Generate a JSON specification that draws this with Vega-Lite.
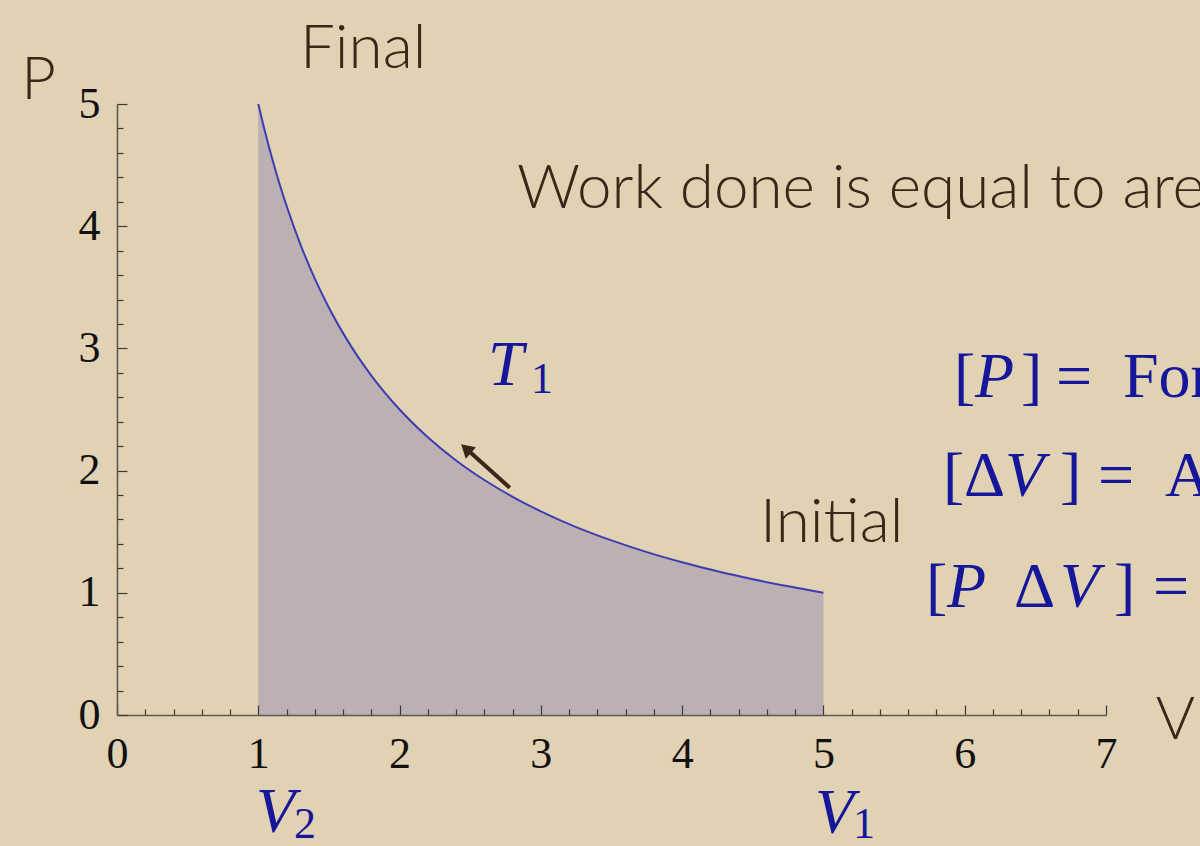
{
  "$schema": "https://vega.github.io/schema/vega-lite/v6.json",
  "width": 989,
  "height": 611,
  "autosize": {"type": "none"},
  "padding": {"left": 117, "top": 104, "right": 94, "bottom": 131},
  "background": "#e1d2b4",
  "config": {"view": {"stroke": null}},
  "datasets": {
    "isotherm": [
      {"v": 1.0, "p": 5.0}, {"v": 1.05, "p": 4.762}, {"v": 1.1, "p": 4.545},
      {"v": 1.15, "p": 4.348}, {"v": 1.2, "p": 4.167}, {"v": 1.3, "p": 3.846},
      {"v": 1.4, "p": 3.571}, {"v": 1.5, "p": 3.333}, {"v": 1.6, "p": 3.125},
      {"v": 1.7, "p": 2.941}, {"v": 1.8, "p": 2.778}, {"v": 1.9, "p": 2.632},
      {"v": 2.0, "p": 2.5}, {"v": 2.2, "p": 2.273}, {"v": 2.4, "p": 2.083},
      {"v": 2.6, "p": 1.923}, {"v": 2.8, "p": 1.786}, {"v": 3.0, "p": 1.667},
      {"v": 3.25, "p": 1.538}, {"v": 3.5, "p": 1.429}, {"v": 3.75, "p": 1.333},
      {"v": 4.0, "p": 1.25}, {"v": 4.25, "p": 1.176}, {"v": 4.5, "p": 1.111},
      {"v": 4.75, "p": 1.053}, {"v": 5.0, "p": 1.0}
    ],
    "arrow": [{"v": 2.78, "p": 1.86, "v2": 2.5, "p2": 2.15}],
    "arrowHead": [{"v": 2.47, "p": 2.18}],
    "notes": [
      {"v": 1.295, "p": 5.294, "text": "Final"},
      {"v": 2.831, "p": 4.149, "text": "Work done is equal to area under the curve"},
      {"v": 4.551, "p": 1.416, "text": "Initial"}
    ],
    "mathItalic": [
      {"v": 2.626, "p": 2.70, "text": "T"},
      {"v": 6.073, "p": 2.602, "text": "P"},
      {"v": 6.285, "p": 1.792, "text": "V"},
      {"v": 5.874, "p": 0.884, "text": "P"},
      {"v": 6.674, "p": 0.884, "text": "V"},
      {"v": 0.984, "p": -0.957, "text": "V"},
      {"v": 4.940, "p": -0.966, "text": "V"}
    ],
    "mathRoman": [
      {"v": 5.924, "p": 2.602, "text": "["},
      {"v": 6.398, "p": 2.602, "text": "]"},
      {"v": 6.646, "p": 2.602, "text": "="},
      {"v": 7.120, "p": 2.602, "text": "Force/Area"},
      {"v": 5.846, "p": 1.792, "text": "["},
      {"v": 5.995, "p": 1.792, "text": "Δ"},
      {"v": 6.674, "p": 1.792, "text": "]"},
      {"v": 6.943, "p": 1.792, "text": "="},
      {"v": 7.417, "p": 1.792, "text": "Area × Length"},
      {"v": 5.726, "p": 0.884, "text": "["},
      {"v": 6.349, "p": 0.884, "text": "Δ"},
      {"v": 7.056, "p": 0.884, "text": "]"},
      {"v": 7.332, "p": 0.884, "text": "="}
    ],
    "mathSub": [
      {"v": 2.930, "p": 2.635, "text": "1"},
      {"v": 1.253, "p": -1.007, "text": "2"},
      {"v": 5.209, "p": -1.007, "text": "1"}
    ]
  },
  "layer": [
    {
      "data": {"name": "isotherm"},
      "mark": {"type": "area", "interpolate": "monotone", "color": "#978eb2", "opacity": 0.5},
      "encoding": {
        "x": {
          "field": "v", "type": "quantitative",
          "scale": {"domain": [0, 7], "nice": false},
          "axis": {
            "orient": "bottom", "values": [0, 1, 2, 3, 4, 5, 6, 7], "format": "d",
            "tickSize": -10, "tickColor": "#3a3a3a", "tickWidth": 1.2,
            "domainColor": "#5a5a55", "domainWidth": 1.6,
            "labelFont": "Liberation Serif", "labelFontSize": 44, "labelColor": "#111111",
            "labelPadding": 27, "labelFlush": false, "labelOverlap": false, "grid": false,
            "zindex": 2,
            "title": "V", "titleFont": "Lato", "titleFontWeight": 300, "titleFontSize": 60,
            "titleColor": "#3b2618", "titleX": 1058, "titleY": 5, "titleAlign": "center",
            "titleBaseline": "middle", "titleAngle": 0
          }
        },
        "y": {
          "field": "p", "type": "quantitative",
          "scale": {"domain": [0, 5], "nice": false},
          "axis": {
            "orient": "left", "values": [0, 1, 2, 3, 4, 5], "format": "d",
            "tickSize": -10, "tickColor": "#3a3a3a", "tickWidth": 1.2,
            "domainColor": "#5a5a55", "domainWidth": 1.6,
            "labelFont": "Liberation Serif", "labelFontSize": 44, "labelColor": "#111111",
            "labelPadding": 27, "labelFlush": false, "labelOverlap": false, "grid": false,
            "zindex": 2,
            "title": "P", "titleFont": "Lato", "titleFontWeight": 300, "titleFontSize": 60,
            "titleColor": "#3b2618", "titleX": -79, "titleY": -24, "titleAlign": "center",
            "titleBaseline": "middle", "titleAngle": 0
          }
        }
      }
    },
    {
      "data": {"name": "isotherm"},
      "mark": {"type": "line", "interpolate": "monotone", "color": "#3d3db3", "strokeWidth": 2},
      "encoding": {
        "x": {
          "field": "v", "type": "quantitative",
          "axis": {
            "orient": "bottom",
            "values": [0.2, 0.4, 0.6, 0.8, 1.2, 1.4, 1.6, 1.8, 2.2, 2.4, 2.6, 2.8, 3.2, 3.4, 3.6, 3.8, 4.2, 4.4, 4.6, 4.8, 5.2, 5.4, 5.6, 5.8, 6.2, 6.4, 6.6, 6.8],
            "tickSize": -6, "tickColor": "#3a3a3a", "tickWidth": 1.2,
            "labels": false, "domain": false, "grid": false, "title": null, "zindex": 2
          }
        },
        "y": {
          "field": "p", "type": "quantitative",
          "axis": {
            "orient": "left",
            "values": [0.2, 0.4, 0.6, 0.8, 1.2, 1.4, 1.6, 1.8, 2.2, 2.4, 2.6, 2.8, 3.2, 3.4, 3.6, 3.8, 4.2, 4.4, 4.6, 4.8],
            "tickSize": -6, "tickColor": "#3a3a3a", "tickWidth": 1.2,
            "labels": false, "domain": false, "grid": false, "title": null, "zindex": 2
          }
        }
      }
    },
    {
      "data": {"name": "arrow"},
      "mark": {"type": "rule", "color": "#3b2618", "strokeWidth": 4},
      "encoding": {
        "x": {"field": "v", "type": "quantitative", "axis": null},
        "y": {"field": "p", "type": "quantitative", "axis": null},
        "x2": {"field": "v2"},
        "y2": {"field": "p2"}
      }
    },
    {
      "data": {"name": "arrowHead"},
      "mark": {"type": "point", "shape": "triangle-up", "filled": true, "color": "#3b2618", "opacity": 1, "size": 230, "angle": 312},
      "encoding": {
        "x": {"field": "v", "type": "quantitative", "axis": null},
        "y": {"field": "p", "type": "quantitative", "axis": null}
      }
    },
    {
      "data": {"name": "notes"},
      "mark": {"type": "text", "align": "left", "baseline": "alphabetic", "font": "Lato", "fontWeight": 300, "fontSize": 62, "color": "#3b2618"},
      "encoding": {
        "x": {"field": "v", "type": "quantitative", "axis": null},
        "y": {"field": "p", "type": "quantitative", "axis": null},
        "text": {"field": "text"}
      }
    },
    {
      "data": {"name": "mathItalic"},
      "mark": {"type": "text", "align": "left", "baseline": "alphabetic", "font": "Liberation Serif", "fontStyle": "italic", "fontSize": 64, "color": "#16169a"},
      "encoding": {
        "x": {"field": "v", "type": "quantitative", "axis": null},
        "y": {"field": "p", "type": "quantitative", "axis": null},
        "text": {"field": "text"}
      }
    },
    {
      "data": {"name": "mathRoman"},
      "mark": {"type": "text", "align": "left", "baseline": "alphabetic", "font": "Liberation Serif", "fontSize": 64, "color": "#16169a"},
      "encoding": {
        "x": {"field": "v", "type": "quantitative", "axis": null},
        "y": {"field": "p", "type": "quantitative", "axis": null},
        "text": {"field": "text"}
      }
    },
    {
      "data": {"name": "mathSub"},
      "mark": {"type": "text", "align": "left", "baseline": "alphabetic", "font": "Liberation Serif", "fontSize": 44, "color": "#16169a"},
      "encoding": {
        "x": {"field": "v", "type": "quantitative", "axis": null},
        "y": {"field": "p", "type": "quantitative", "axis": null},
        "text": {"field": "text"}
      }
    }
  ],
  "resolve": {"axis": {"x": "independent", "y": "independent"}}
}
